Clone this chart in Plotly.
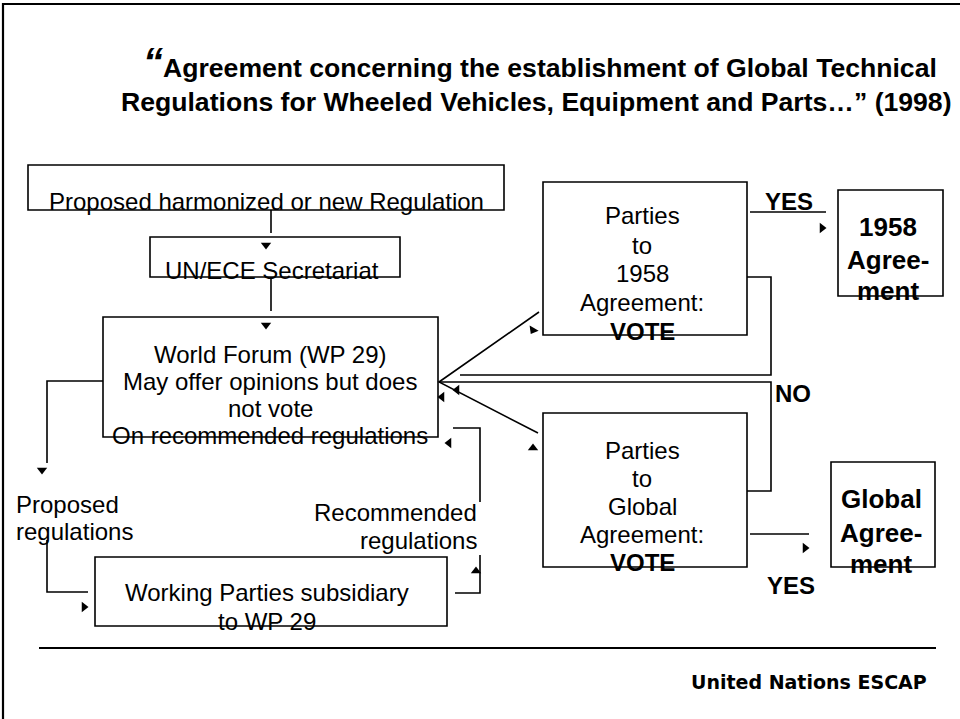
import plotly.graph_objects as go

# ---- text content ----
title_quote = "\u201c"
title_lines = ["Agreement concerning the establishment of Global Technical",
               "Regulations for Wheeled Vehicles, Equipment and Parts\u2026\u201d (1998)"]
proposal_label = ["Proposed harmonized or new Regulation"]
secretariat_label = ["UN/ECE Secretariat"]
forum_lines = ["World Forum (WP 29)", "May offer opinions but does", "not vote",
               "On recommended regulations"]
working_lines = ["Working Parties subsidiary", "to WP 29"]
proposed_flow_lines = ["Proposed", "regulations"]
recommended_flow_lines = ["Recommended", "regulations"]
vote1958_lines = ["Parties", "to", "1958", "Agreement:", "<b>VOTE</b>"]
voteglobal_lines = ["Parties", "to", "Global", "Agreement:", "<b>VOTE</b>"]
agr1958_lines = ["1958", "Agree-", "ment"]
agrglobal_lines = ["Global", "Agree-", "ment"]
yes_label = "YES"
no_label = "NO"
source_label = "United Nations ESCAP"

FONT = "Arial, Liberation Sans, sans-serif"
fig = go.Figure()
shapes = []
annotations = []


def rect(x0, y0, x1, y1, w=1.6):
    shapes.append(dict(type="rect", x0=x0, y0=y0, x1=x1, y1=y1, xref="x", yref="y",
                       line=dict(color="black", width=w), fillcolor="rgba(0,0,0,0)"))


def poly(pts, w=1.6):
    d = "M " + " L ".join(f"{x},{y}" for x, y in pts)
    shapes.append(dict(type="path", path=d, xref="x", yref="y",
                       line=dict(color="black", width=w)))


def text(lines, x, ys, size=24, bold=False, xanchor="center", family=FONT):
    for t, y in zip(lines, ys):
        annotations.append(dict(x=x, y=y, xref="x", yref="y", text=(f"<b>{t}</b>" if bold else t),
                                showarrow=False, xanchor=xanchor, yanchor="middle",
                                font=dict(family=family, size=size, color="black")))


# frame
poly([(3, 725), (3, 4), (965, 4)], w=2.2)

# title
annotations.append(dict(x=153, y=62, xref="x", yref="y", text="<b><i>" + title_quote + "</i></b>",
                        showarrow=False, xanchor="center", yanchor="middle",
                        font=dict(family=FONT, size=40, color="black")))
text(title_lines[:1], 550, [68], size=26.6, bold=True)
text(title_lines[1:], 536, [102], size=26.6, bold=True)

# boxes
rect(28, 165, 504, 210)
text(proposal_label, 266, [201])
rect(150, 237, 400, 277)
text(secretariat_label, 272, [270])
rect(103, 317, 438, 437)
text(forum_lines, 270, [354, 381, 408, 435])
rect(95, 557, 447, 626)
text(working_lines, 267, [592, 621])
rect(543, 182, 747, 335)
text(vote1958_lines, 642, [215, 245, 273, 302, 331])
rect(838, 190, 943, 296)
text(agr1958_lines, 888, [227, 260, 291], size=26, bold=True)
rect(543, 413, 747, 567)
text(voteglobal_lines, 642, [450, 478, 506, 534, 562])
rect(831, 462, 935, 567)
text(agrglobal_lines, 881, [499, 533, 564], size=26, bold=True)

# connectors
poly([(271, 210), (271, 233)])
poly([(271, 277), (271, 311)])
poly([(103, 381), (47, 381), (47, 463)])
poly([(47, 540), (47, 592), (88, 592)])
poly([(455, 593), (480, 593), (480, 555)])
poly([(480, 502), (480, 428), (453, 428)])
poly([(747, 277), (771, 277), (771, 375), (460, 375)])
poly([(747, 491), (771, 491), (771, 382), (439, 382)])
poly([(539, 312), (439, 382), (538, 433)])
poly([(750, 212), (826, 212)])
poly([(750, 534), (809, 534)])

# bottom rule
poly([(39, 648), (936, 648)], w=2)

# flow labels
text(proposed_flow_lines, 14, [504, 531], xanchor="left")
text(recommended_flow_lines, 479, [512, 540], xanchor="right")
text([yes_label], 789, [201], size=24, bold=True)
text([yes_label], 791, [585], size=24, bold=True)
text([no_label], 793, [393], size=24, bold=True)
text([source_label], 929, [682], size=19, bold=True, xanchor="right",
     family="DejaVu Sans, Verdana, sans-serif")

# arrowheads
heads = [
    (266, 245, "triangle-down", 0),
    (266, 325, "triangle-down", 0),
    (42, 470, "triangle-down", 0),
    (84, 607, "triangle-right", 0),
    (476, 571, "triangle-up", 0),
    (449, 443, "triangle-left", 0),
    (822, 228, "triangle-right", 0),
    (805, 548, "triangle-right", 0),
    (457, 390, "triangle-left", 0),
    (442, 397, "triangle-left", 0),
    (533, 330, "triangle-down", 30),
    (533, 448, "triangle-up", 0),
]
fig.add_trace(go.Scatter(x=[h[0] for h in heads], y=[h[1] for h in heads], mode="markers",
                         marker=dict(symbol=[h[2] for h in heads], angle=[h[3] for h in heads],
                                     size=9, color="black", line=dict(width=0)),
                         hoverinfo="skip", showlegend=False))

fig.update_layout(width=960, height=719, margin=dict(l=0, r=0, t=0, b=0),
                  paper_bgcolor="white", plot_bgcolor="white",
                  xaxis=dict(range=[0, 960], visible=False, fixedrange=True),
                  yaxis=dict(range=[719, 0], visible=False, fixedrange=True),
                  shapes=shapes, annotations=annotations, showlegend=False)
fig.write_html("out.html", config={"displayModeBar": False},
               post_script="document.body.style.margin='0px';")
